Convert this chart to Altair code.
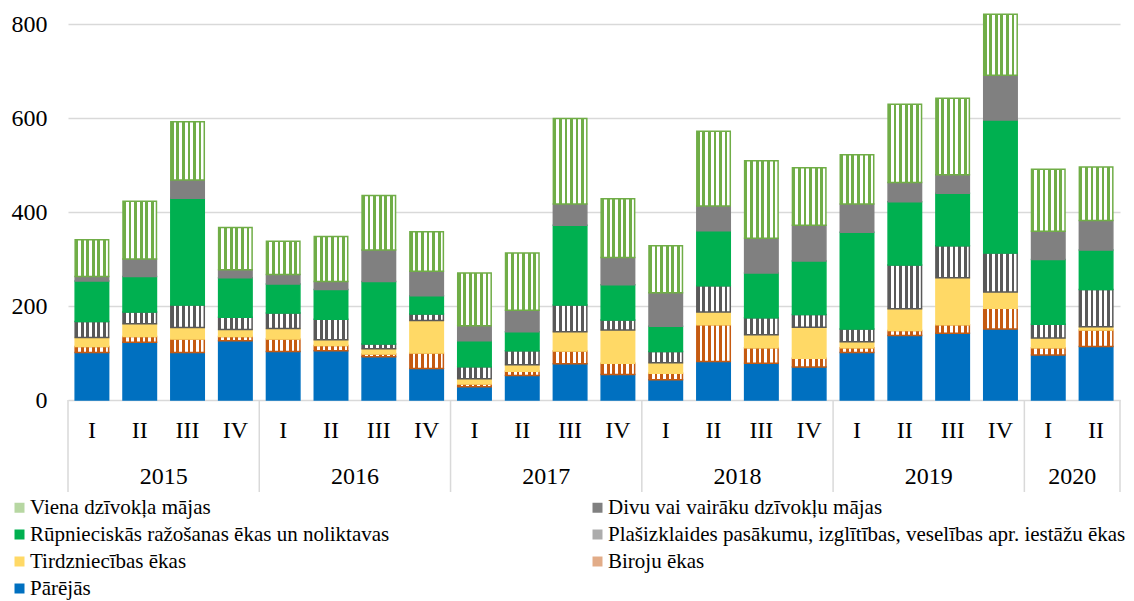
import altair as alt
import pandas as pd

years = ["2015"] * 4 + ["2016"] * 4 + ["2017"] * 4 + ["2018"] * 4 + ["2019"] * 4 + ["2020"] * 2
quarters = ["I", "II", "III", "IV"] * 5 + ["I", "II"]

parejas = [101, 123, 101, 126, 103, 105, 92, 67, 28, 52, 77, 54, 43, 82, 78, 70, 101, 137, 142, 151, 96, 114]
biroju = [13, 12, 29, 9, 27, 11, 6, 33, 6, 9, 27, 24, 14, 78, 33, 19, 10, 11, 18, 44, 15, 35]
tirdz = [19, 27, 24, 15, 22, 12, 11, 69, 11, 14, 41, 71, 22, 27, 28, 66, 13, 46, 100, 35, 21, 7]
plasizkl = [34, 25, 48, 26, 33, 44, 10, 14, 26, 30, 57, 21, 24, 56, 36, 27, 27, 93, 68, 83, 29, 79]
rupn = [86, 76, 227, 84, 62, 63, 133, 39, 55, 40, 170, 75, 54, 117, 95, 114, 206, 135, 112, 283, 138, 84]
divu = [10, 37, 39, 17, 20, 17, 67, 52, 32, 46, 45, 58, 71, 53, 74, 76, 60, 41, 39, 95, 60, 63]
viena = [78, 123, 124, 90, 71, 96, 116, 84, 112, 122, 182, 125, 100, 159, 165, 122, 105, 166, 163, 130, 132, 114]

S_VIENA = "Viena dzīvokļa mājas"
S_DIVU = "Divu vai vairāku dzīvokļu mājas"
S_RUPN = "Rūpnieciskās ražošanas ēkas un noliktavas"
S_PLAS = "Plašizklaides pasākumu, izglītības, veselības apr. iestāžu ēkas"
S_TIRDZ = "Tirdzniecības ēkas"
S_BIROJU = "Biroju ēkas"
S_PAREJAS = "Pārējās"

# stack order bottom -> top
stack_series = [S_PAREJAS, S_BIROJU, S_TIRDZ, S_PLAS, S_RUPN, S_DIVU, S_VIENA]
stack_values = [parejas, biroju, tirdz, plasizkl, rupn, divu, viena]

# legend order (column-major, 2 columns)
legend_order = [S_VIENA, S_RUPN, S_TIRDZ, S_PAREJAS, S_DIVU, S_PLAS, S_BIROJU]
legend_fill = ["#b7d7a2", "#00B050", "#FFD966", "#0070C0", "#808080", "#acacac", "#e2ac88"]
legend_stroke = ["#70AD47", "#00B050", "#FFD966", "#0070C0", "#808080", "#595959", "#C55A11"]

keys = [f"{y} {q}" for y, q in zip(years, quarters)]

rows = []
for order, (s, vals) in enumerate(zip(stack_series, stack_values)):
    for k, v in zip(keys, vals):
        rows.append({"key": k, "series": s, "value": v, "ord": order})
df = pd.DataFrame(rows)

qdf = pd.DataFrame({"key": keys, "quarter": quarters})

# year groups
year_list = []
for y in years:
    if y not in year_list:
        year_list.append(y)
counts = [years.count(y) for y in year_list]
starts = [sum(counts[:i]) for i in range(len(counts))]
ydf = pd.DataFrame({"year": year_list, "center": [s + c / 2 for s, c in zip(starts, counts)]})
sep_df = pd.DataFrame({"pos": starts + [len(keys)]})


def stripes(color, n=6):
    stops = []
    for k in range(n):
        a, b, c = k / n, (k + 0.5) / n, (k + 1) / n
        stops += [
            {"offset": a, "color": color},
            {"offset": b, "color": color},
            {"offset": b, "color": "#ffffff"},
            {"offset": c, "color": "#ffffff"},
        ]
    return {"gradient": "linear", "x1": 0, "y1": 0, "x2": 1, "y2": 0, "stops": stops}


FONT = "Liberation Serif"
W, H = 1052, 376
LFS = 21

fill_def = {
    "field": "series",
    "type": "nominal",
    "scale": {"domain": legend_order, "range": legend_fill},
    "legend": {
        "orient": "none",
        "legendX": -59,
        "legendY": 473,
        "columns": 2,
        "columnPadding": 197,
        "rowPadding": 5,
        "symbolType": "square",
        "symbolSize": 100,
        "symbolStrokeWidth": 0,
        "labelFont": FONT,
        "labelFontSize": LFS,
        "labelColor": "#000000",
        "labelLimit": 900,
        "labelOffset": 0,
        "title": None,
        "padding": 0,
    },
    "condition": [
        {"test": f"datum.series === '{S_VIENA}'", "value": stripes("#70AD47")},
        {"test": f"datum.series === '{S_PLAS}'", "value": stripes("#595959")},
        {"test": f"datum.series === '{S_BIROJU}'", "value": stripes("#C55A11")},
    ],
}

bars = alt.Chart(df).mark_bar(strokeWidth=1.5).encode(
    x=alt.X("key:N", sort=keys, axis=None,
            scale=alt.Scale(paddingInner=0.3, paddingOuter=0.15)),
    y=alt.Y("value:Q", stack="zero",
            scale=alt.Scale(domain=[0, 800], nice=False),
            axis=alt.Axis(values=[0, 200, 400, 600, 800], title=None, domain=False,
                          ticks=False, tickSize=0, labelPadding=21,
                          labelFont=FONT, labelFontSize=24, labelColor="#000000",
                          gridColor="#d9d9d9", gridWidth=1.5)),
    fill=fill_def,
    stroke=alt.Stroke("series:N", scale=alt.Scale(domain=legend_order, range=legend_stroke), legend=None),
    order=alt.Order("ord:Q", sort="ascending"),
)

qtext = alt.Chart(qdf).mark_text(font=FONT, fontSize=24, color="#000000", baseline="middle").encode(
    x=alt.X("key:N", sort=keys, axis=None),
    y=alt.value(H + 31),
    text="quarter:N",
)

seps = alt.Chart(sep_df).mark_rule(color="#d9d9d9", strokeWidth=1.5).encode(
    x=alt.X("pos:Q", axis=None, scale=alt.Scale(domain=[0, len(keys)], nice=False, zero=False)),
    y=alt.value(H),
    y2=alt.value(H + 92),
)

ytext = alt.Chart(ydf).mark_text(font=FONT, fontSize=24, color="#000000", baseline="middle").encode(
    x=alt.X("center:Q", axis=None, scale=alt.Scale(domain=[0, len(keys)], nice=False, zero=False)),
    y=alt.value(H + 77),
    text="year:N",
)

chart = alt.layer(
    alt.layer(bars, qtext),
    alt.layer(seps, ytext),
).resolve_scale(x="independent").properties(
    width=W,
    height=H,
    padding={"left": 60, "top": 16, "right": 6, "bottom": 200},
    autosize=alt.AutoSizeParams(type="none"),
).configure_view(
    stroke=None
).configure_axis(
    labelFont=FONT, labelFontSize=24, labelColor="#000000"
).configure_legend(
    labelFont=FONT, labelFontSize=LFS, labelColor="#000000", labelLimit=900
).configure_text(
    font=FONT
)

chart.save("out.html", embed_options={"renderer": "svg", "actions": False})
